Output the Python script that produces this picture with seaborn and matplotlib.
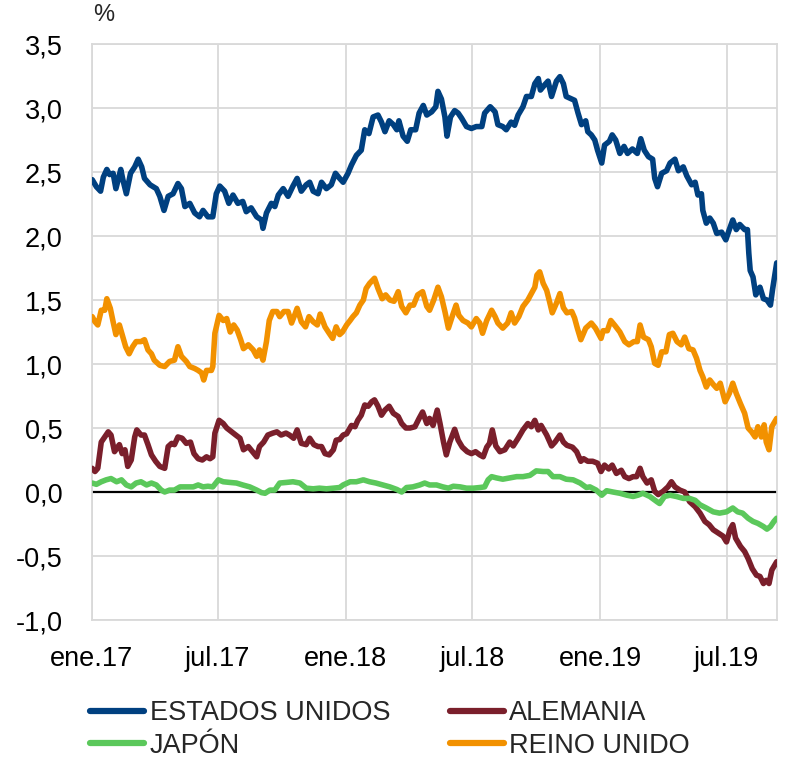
import matplotlib
matplotlib.use("Agg")
import matplotlib.pyplot as plt
from matplotlib.lines import Line2D
import seaborn as sns
import pandas as pd

# ---------------- Data (10y yields) ----------------
eeuu_fechas = [
    "2017-01-02", "2017-01-08", "2017-01-14", "2017-01-18", "2017-01-23", "2017-01-27", "2017-02-01", "2017-02-05",
    "2017-02-12", "2017-02-15", "2017-02-20", "2017-02-26", "2017-03-04", "2017-03-09", "2017-03-14", "2017-03-18",
    "2017-03-26", "2017-04-04", "2017-04-09", "2017-04-15", "2017-04-21", "2017-04-28", "2017-05-05", "2017-05-10",
    "2017-05-15", "2017-05-22", "2017-05-29", "2017-06-05", "2017-06-10", "2017-06-17", "2017-06-24", "2017-06-29",
    "2017-07-04", "2017-07-11", "2017-07-17", "2017-07-23", "2017-07-30", "2017-08-06", "2017-08-11", "2017-08-18",
    "2017-08-26", "2017-09-02", "2017-09-04", "2017-09-09", "2017-09-16", "2017-09-21", "2017-09-26", "2017-10-03",
    "2017-10-10", "2017-10-17", "2017-10-23", "2017-10-29", "2017-11-05", "2017-11-10", "2017-11-15", "2017-11-22",
    "2017-11-27", "2017-12-04", "2017-12-11", "2017-12-17", "2017-12-23", "2017-12-28", "2018-01-04", "2018-01-09",
    "2018-01-16", "2018-01-23", "2018-01-28", "2018-02-03", "2018-02-09", "2018-02-16", "2018-02-21", "2018-02-26",
    "2018-03-04", "2018-03-10", "2018-03-15", "2018-03-18", "2018-03-24", "2018-03-30", "2018-04-04", "2018-04-11",
    "2018-04-16", "2018-04-22", "2018-04-27", "2018-05-04", "2018-05-10", "2018-05-13", "2018-05-18", "2018-05-23",
    "2018-05-26", "2018-05-31", "2018-06-06", "2018-06-11", "2018-06-16", "2018-06-23", "2018-06-30", "2018-07-07",
    "2018-07-15", "2018-07-19", "2018-07-27", "2018-08-03", "2018-08-07", "2018-08-14", "2018-08-19", "2018-08-26",
    "2018-08-31", "2018-09-05", "2018-09-12", "2018-09-17", "2018-09-24", "2018-09-29", "2018-10-04", "2018-10-07",
    "2018-10-13", "2018-10-18", "2018-10-23", "2018-10-30", "2018-11-04", "2018-11-09", "2018-11-13", "2018-11-21",
    "2018-11-25", "2018-11-30", "2018-12-05", "2018-12-11", "2018-12-14", "2018-12-19", "2018-12-24", "2018-12-28",
    "2019-01-03", "2019-01-07", "2019-01-14", "2019-01-18", "2019-01-23", "2019-01-29", "2019-02-04", "2019-02-09",
    "2019-02-16", "2019-02-23", "2019-02-28", "2019-03-05", "2019-03-11", "2019-03-17", "2019-03-20", "2019-03-24",
    "2019-03-30", "2019-04-06", "2019-04-11", "2019-04-18", "2019-04-23", "2019-04-30", "2019-05-05", "2019-05-12",
    "2019-05-17", "2019-05-21", "2019-05-26", "2019-05-28", "2019-06-02", "2019-06-07", "2019-06-12", "2019-06-17",
    "2019-06-24", "2019-06-30", "2019-07-05", "2019-07-10", "2019-07-15", "2019-07-20", "2019-07-27", "2019-07-31",
    "2019-08-02", "2019-08-04", "2019-08-08", "2019-08-12", "2019-08-18", "2019-08-23", "2019-08-28", "2019-09-02",
    "2019-09-05", "2019-09-11",
]
eeuu_valores = [
    2.44, 2.385, 2.35, 2.46, 2.52, 2.48, 2.49, 2.37,
    2.52, 2.44, 2.33, 2.49, 2.54, 2.60, 2.54, 2.45,
    2.40, 2.37, 2.31, 2.20, 2.31, 2.33, 2.41, 2.37,
    2.23, 2.255, 2.18, 2.15, 2.20, 2.15, 2.15, 2.33,
    2.39, 2.35, 2.255, 2.32, 2.255, 2.27, 2.19, 2.22,
    2.15, 2.125, 2.06, 2.18, 2.255, 2.23, 2.32, 2.37,
    2.31, 2.39, 2.45, 2.35, 2.40, 2.42, 2.35, 2.33,
    2.42, 2.37, 2.40, 2.49, 2.45, 2.42, 2.49, 2.555,
    2.63, 2.67, 2.83, 2.80, 2.93, 2.945, 2.89, 2.815,
    2.90, 2.87, 2.83, 2.90, 2.78, 2.74, 2.83, 2.83,
    2.96, 3.02, 2.945, 2.97, 3.01, 3.13, 3.07, 2.93,
    2.78, 2.93, 2.98, 2.96, 2.92, 2.855, 2.84, 2.855,
    2.855, 2.96, 3.01, 2.97, 2.87, 2.855, 2.83, 2.89,
    2.865, 2.945, 3.01, 3.09, 3.09, 3.19, 3.23, 3.14,
    3.18, 3.21, 3.09, 3.21, 3.245, 3.19, 3.09, 3.07,
    3.06, 2.96, 2.87, 2.90, 2.815, 2.79, 2.75, 2.67,
    2.57, 2.71, 2.74, 2.79, 2.75, 2.645, 2.70, 2.645,
    2.68, 2.645, 2.76, 2.67, 2.62, 2.60, 2.45, 2.385,
    2.49, 2.51, 2.57, 2.60, 2.51, 2.54, 2.47, 2.40,
    2.42, 2.32, 2.33, 2.20, 2.10, 2.14, 2.10, 2.02,
    2.03, 1.97, 2.05, 2.125, 2.05, 2.09, 2.05, 2.05,
    1.865, 1.73, 1.68, 1.54, 1.60, 1.51, 1.50, 1.46,
    1.58, 1.79,
]

alemania_fechas = [
    "2017-01-02", "2017-01-06", "2017-01-10", "2017-01-15", "2017-01-20", "2017-01-25", "2017-01-29", "2017-02-03",
    "2017-02-10", "2017-02-14", "2017-02-18", "2017-02-22", "2017-02-27", "2017-03-04", "2017-03-07", "2017-03-13",
    "2017-03-18", "2017-03-23", "2017-03-28", "2017-04-03", "2017-04-09", "2017-04-16", "2017-04-21", "2017-04-26",
    "2017-04-30", "2017-05-05", "2017-05-11", "2017-05-17", "2017-05-23", "2017-05-28", "2017-06-03", "2017-06-09",
    "2017-06-15", "2017-06-20", "2017-06-24", "2017-06-27", "2017-07-03", "2017-07-09", "2017-07-14", "2017-07-21",
    "2017-07-27", "2017-08-02", "2017-08-07", "2017-08-14", "2017-08-20", "2017-08-26", "2017-08-30", "2017-09-05",
    "2017-09-11", "2017-09-18", "2017-09-24", "2017-09-30", "2017-10-07", "2017-10-12", "2017-10-18", "2017-10-23",
    "2017-10-29", "2017-11-05", "2017-11-10", "2017-11-16", "2017-11-22", "2017-11-27", "2017-12-02", "2017-12-08",
    "2017-12-14", "2017-12-18", "2017-12-23", "2017-12-28", "2018-01-02", "2018-01-09", "2018-01-14", "2018-01-18",
    "2018-01-23", "2018-01-28", "2018-02-02", "2018-02-07", "2018-02-11", "2018-02-16", "2018-02-21", "2018-02-26",
    "2018-03-04", "2018-03-10", "2018-03-17", "2018-03-22", "2018-03-28", "2018-04-03", "2018-04-10", "2018-04-16",
    "2018-04-21", "2018-04-27", "2018-05-01", "2018-05-06", "2018-05-12", "2018-05-16", "2018-05-21", "2018-05-25",
    "2018-05-30", "2018-06-06", "2018-06-11", "2018-06-17", "2018-06-24", "2018-06-30", "2018-07-06", "2018-07-12",
    "2018-07-17", "2018-07-22", "2018-07-26", "2018-07-30", "2018-08-04", "2018-08-10", "2018-08-17", "2018-08-24",
    "2018-08-29", "2018-09-05", "2018-09-12", "2018-09-19", "2018-09-24", "2018-09-29", "2018-10-04", "2018-10-08",
    "2018-10-16", "2018-10-23", "2018-10-28", "2018-11-04", "2018-11-09", "2018-11-14", "2018-11-22", "2018-11-28",
    "2018-12-04", "2018-12-08", "2018-12-14", "2018-12-21", "2018-12-28", "2019-01-02", "2019-01-07", "2019-01-13",
    "2019-01-18", "2019-01-24", "2019-01-31", "2019-02-05", "2019-02-11", "2019-02-17", "2019-02-22", "2019-02-27",
    "2019-03-03", "2019-03-09", "2019-03-15", "2019-03-20", "2019-03-25", "2019-04-01", "2019-04-08", "2019-04-13",
    "2019-04-18", "2019-04-25", "2019-05-02", "2019-05-09", "2019-05-17", "2019-05-24", "2019-05-31", "2019-06-06",
    "2019-06-12", "2019-06-19", "2019-06-26", "2019-07-01", "2019-07-06", "2019-07-10", "2019-07-14", "2019-07-21",
    "2019-07-27", "2019-08-01", "2019-08-07", "2019-08-13", "2019-08-18", "2019-08-23", "2019-08-27", "2019-08-31",
    "2019-09-04", "2019-09-11",
]
alemania_valores = [
    0.185, 0.16, 0.185, 0.39, 0.43, 0.47, 0.445, 0.315,
    0.37, 0.30, 0.33, 0.20, 0.25, 0.43, 0.485, 0.445,
    0.445, 0.37, 0.29, 0.24, 0.20, 0.185, 0.355, 0.38,
    0.37, 0.43, 0.42, 0.38, 0.39, 0.30, 0.26, 0.25,
    0.275, 0.26, 0.275, 0.46, 0.56, 0.535, 0.50, 0.47,
    0.445, 0.42, 0.33, 0.355, 0.315, 0.275, 0.355, 0.39,
    0.445, 0.46, 0.47, 0.445, 0.46, 0.445, 0.42, 0.485,
    0.38, 0.37, 0.42, 0.37, 0.355, 0.355, 0.30, 0.29,
    0.33, 0.405, 0.41, 0.445, 0.455, 0.52, 0.51, 0.56,
    0.60, 0.68, 0.67, 0.705, 0.72, 0.67, 0.60, 0.64,
    0.67, 0.615, 0.59, 0.535, 0.50, 0.50, 0.51, 0.575,
    0.625, 0.535, 0.575, 0.52, 0.64, 0.535, 0.39, 0.29,
    0.39, 0.49, 0.405, 0.35, 0.315, 0.30, 0.315, 0.29,
    0.275, 0.35, 0.38, 0.485, 0.36, 0.315, 0.33, 0.39,
    0.36, 0.42, 0.485, 0.535, 0.51, 0.56, 0.485, 0.52,
    0.445, 0.36, 0.39, 0.445, 0.39, 0.365, 0.35, 0.315,
    0.24, 0.26, 0.24, 0.24, 0.225, 0.16, 0.21, 0.18,
    0.21, 0.145, 0.17, 0.12, 0.105, 0.12, 0.12, 0.185,
    0.12, 0.07, 0.095, 0.005, -0.02, 0.005, 0.04, 0.08,
    0.04, 0.015, 0.00, -0.075, -0.115, -0.165, -0.23, -0.255,
    -0.295, -0.32, -0.345, -0.39, -0.295, -0.255, -0.36, -0.425,
    -0.465, -0.52, -0.60, -0.65, -0.66, -0.715, -0.69, -0.715,
    -0.61, -0.545,
]

japon_fechas = [
    "2017-01-02", "2017-01-08", "2017-01-15", "2017-01-22", "2017-01-29", "2017-02-06", "2017-02-13", "2017-02-20",
    "2017-02-27", "2017-03-06", "2017-03-13", "2017-03-21", "2017-03-28", "2017-04-04", "2017-04-11", "2017-04-16",
    "2017-04-23", "2017-04-30", "2017-05-08", "2017-05-17", "2017-05-27", "2017-06-03", "2017-06-10", "2017-06-17",
    "2017-06-24", "2017-07-02", "2017-07-09", "2017-07-18", "2017-07-28", "2017-08-06", "2017-08-16", "2017-08-26",
    "2017-09-02", "2017-09-07", "2017-09-14", "2017-09-21", "2017-09-28", "2017-10-08", "2017-10-17", "2017-10-27",
    "2017-11-05", "2017-11-15", "2017-11-24", "2017-12-04", "2017-12-14", "2017-12-23", "2017-12-28", "2018-01-07",
    "2018-01-16", "2018-01-26", "2018-02-04", "2018-02-13", "2018-02-23", "2018-03-05", "2018-03-15", "2018-03-22",
    "2018-03-29", "2018-04-07", "2018-04-17", "2018-04-24", "2018-05-01", "2018-05-11", "2018-05-20", "2018-05-28",
    "2018-06-04", "2018-06-14", "2018-06-23", "2018-07-03", "2018-07-12", "2018-07-19", "2018-07-24", "2018-07-29",
    "2018-08-05", "2018-08-14", "2018-08-24", "2018-09-03", "2018-09-12", "2018-09-22", "2018-10-01", "2018-10-11",
    "2018-10-18", "2018-10-25", "2018-11-04", "2018-11-13", "2018-11-23", "2018-12-03", "2018-12-12", "2018-12-17",
    "2018-12-26", "2019-01-03", "2019-01-10", "2019-01-19", "2019-01-29", "2019-02-08", "2019-02-17", "2019-02-24",
    "2019-03-03", "2019-03-13", "2019-03-23", "2019-03-27", "2019-04-03", "2019-04-11", "2019-04-20", "2019-04-30",
    "2019-05-09", "2019-05-17", "2019-05-24", "2019-06-02", "2019-06-12", "2019-06-21", "2019-07-01", "2019-07-10",
    "2019-07-17", "2019-07-24", "2019-08-01", "2019-08-08", "2019-08-15", "2019-08-23", "2019-08-28", "2019-09-02",
    "2019-09-07", "2019-09-11",
]
japon_valores = [
    0.07, 0.06, 0.08, 0.095, 0.105, 0.08, 0.095, 0.055,
    0.04, 0.07, 0.08, 0.055, 0.07, 0.055, 0.015, 0.00,
    0.015, 0.015, 0.04, 0.04, 0.04, 0.055, 0.04, 0.045,
    0.04, 0.095, 0.08, 0.075, 0.07, 0.055, 0.04, 0.015,
    -0.005, -0.01, 0.015, 0.015, 0.07, 0.075, 0.08, 0.07,
    0.03, 0.025, 0.03, 0.025, 0.03, 0.035, 0.055, 0.08,
    0.08, 0.095, 0.08, 0.07, 0.055, 0.04, 0.02, 0.00,
    0.035, 0.04, 0.055, 0.07, 0.055, 0.055, 0.04, 0.03,
    0.045, 0.04, 0.03, 0.03, 0.035, 0.04, 0.095, 0.12,
    0.11, 0.10, 0.11, 0.12, 0.12, 0.13, 0.165, 0.16,
    0.16, 0.12, 0.12, 0.10, 0.095, 0.07, 0.035, 0.04,
    0.015, -0.025, 0.01, 0.00, -0.01, -0.025, -0.035, -0.025,
    -0.01, -0.035, -0.075, -0.09, -0.035, -0.025, -0.035, -0.05,
    -0.05, -0.065, -0.10, -0.125, -0.155, -0.165, -0.155, -0.125,
    -0.155, -0.165, -0.205, -0.23, -0.245, -0.27, -0.29, -0.27,
    -0.23, -0.205,
]

reino_unido_fechas = [
    "2017-01-02", "2017-01-06", "2017-01-10", "2017-01-15", "2017-01-20", "2017-01-23", "2017-01-28", "2017-02-01",
    "2017-02-05", "2017-02-10", "2017-02-14", "2017-02-19", "2017-02-24", "2017-03-01", "2017-03-06", "2017-03-13",
    "2017-03-18", "2017-03-23", "2017-03-28", "2017-04-01", "2017-04-09", "2017-04-16", "2017-04-23", "2017-04-30",
    "2017-05-05", "2017-05-10", "2017-05-17", "2017-05-22", "2017-05-29", "2017-06-03", "2017-06-08", "2017-06-11",
    "2017-06-15", "2017-06-22", "2017-06-24", "2017-06-27", "2017-07-03", "2017-07-09", "2017-07-14", "2017-07-19",
    "2017-07-24", "2017-07-29", "2017-08-03", "2017-08-07", "2017-08-14", "2017-08-21", "2017-08-26", "2017-08-30",
    "2017-09-04", "2017-09-09", "2017-09-13", "2017-09-18", "2017-09-24", "2017-09-28", "2017-10-04", "2017-10-10",
    "2017-10-15", "2017-10-20", "2017-10-23", "2017-10-29", "2017-11-04", "2017-11-09", "2017-11-15", "2017-11-21",
    "2017-11-25", "2017-12-02", "2017-12-08", "2017-12-13", "2017-12-18", "2017-12-23", "2017-12-27", "2018-01-02",
    "2018-01-07", "2018-01-11", "2018-01-16", "2018-01-21", "2018-01-26", "2018-01-30", "2018-02-04", "2018-02-11",
    "2018-02-16", "2018-02-22", "2018-02-27", "2018-03-05", "2018-03-11", "2018-03-17", "2018-03-22", "2018-03-28",
    "2018-04-03", "2018-04-08", "2018-04-14", "2018-04-21", "2018-04-27", "2018-05-01", "2018-05-07", "2018-05-13",
    "2018-05-18", "2018-05-23", "2018-05-28", "2018-06-03", "2018-06-08", "2018-06-12", "2018-06-18", "2018-06-25",
    "2018-06-30", "2018-07-07", "2018-07-12", "2018-07-16", "2018-07-22", "2018-07-29", "2018-08-03", "2018-08-07",
    "2018-08-14", "2018-08-21", "2018-08-26", "2018-08-31", "2018-09-06", "2018-09-12", "2018-09-19", "2018-09-24",
    "2018-09-29", "2018-10-02", "2018-10-06", "2018-10-11", "2018-10-16", "2018-10-20", "2018-10-24", "2018-10-30",
    "2018-11-04", "2018-11-09", "2018-11-14", "2018-11-21", "2018-11-25", "2018-11-29", "2018-12-04", "2018-12-11",
    "2018-12-19", "2018-12-25", "2019-01-02", "2019-01-05", "2019-01-11", "2019-01-16", "2019-01-22", "2019-01-29",
    "2019-02-05", "2019-02-11", "2019-02-18", "2019-02-23", "2019-02-27", "2019-03-04", "2019-03-11", "2019-03-15",
    "2019-03-20", "2019-03-25", "2019-03-30", "2019-04-05", "2019-04-10", "2019-04-15", "2019-04-21", "2019-04-27",
    "2019-05-02", "2019-05-08", "2019-05-14", "2019-05-19", "2019-05-24", "2019-05-28", "2019-06-02", "2019-06-07",
    "2019-06-12", "2019-06-17", "2019-06-22", "2019-06-29", "2019-07-05", "2019-07-10", "2019-07-15", "2019-07-21",
    "2019-07-27", "2019-08-01", "2019-08-06", "2019-08-11", "2019-08-15", "2019-08-20", "2019-08-24", "2019-08-27",
    "2019-08-31", "2019-09-04", "2019-09-11",
]
reino_unido_valores = [
    1.37, 1.33, 1.305, 1.42, 1.42, 1.51, 1.435, 1.33,
    1.23, 1.305, 1.23, 1.135, 1.08, 1.135, 1.175, 1.175,
    1.19, 1.11, 1.08, 1.03, 0.99, 0.98, 1.02, 1.03,
    1.135, 1.06, 1.02, 0.98, 0.965, 0.95, 0.93, 0.875,
    0.95, 0.95, 0.98, 1.24, 1.38, 1.34, 1.355, 1.25,
    1.305, 1.265, 1.19, 1.12, 1.15, 1.11, 1.06, 1.11,
    1.03, 1.175, 1.34, 1.41, 1.41, 1.37, 1.41, 1.41,
    1.32, 1.39, 1.435, 1.33, 1.29, 1.37, 1.33, 1.305,
    1.39, 1.29, 1.24, 1.20, 1.29, 1.23, 1.25, 1.305,
    1.34, 1.37, 1.40, 1.46, 1.50, 1.59, 1.63, 1.67,
    1.59, 1.51, 1.54, 1.50, 1.49, 1.565, 1.45, 1.40,
    1.46, 1.46, 1.54, 1.565, 1.45, 1.42, 1.50, 1.60,
    1.525, 1.41, 1.28, 1.38, 1.46, 1.38, 1.34, 1.32,
    1.29, 1.355, 1.32, 1.24, 1.34, 1.42, 1.37, 1.32,
    1.28, 1.32, 1.40, 1.32, 1.37, 1.45, 1.50, 1.55,
    1.60, 1.695, 1.72, 1.63, 1.575, 1.49, 1.40, 1.475,
    1.55, 1.44, 1.40, 1.41, 1.36, 1.28, 1.19, 1.28,
    1.32, 1.28, 1.20, 1.26, 1.26, 1.34, 1.30, 1.25,
    1.175, 1.15, 1.175, 1.175, 1.305, 1.21, 1.19, 1.135,
    1.005, 0.99, 1.095, 1.095, 1.23, 1.24, 1.175, 1.15,
    1.21, 1.12, 1.11, 1.045, 0.95, 0.90, 0.82, 0.875,
    0.84, 0.81, 0.85, 0.705, 0.77, 0.85, 0.77, 0.69,
    0.615, 0.50, 0.47, 0.43, 0.51, 0.43, 0.525, 0.39,
    0.33, 0.51, 0.575,
]

series = ["ESTADOS UNIDOS", "ALEMANIA", "JAPÓN", "REINO UNIDO"]
colores = ["#004080", "#7A1F2B", "#5BC85B", "#F29100"]

ticks_x = ["2017-01-01", "2017-07-01", "2018-01-01", "2018-07-01", "2019-01-01", "2019-07-01"]
etiquetas_x = ["ene.17", "jul.17", "ene.18", "jul.18", "ene.19", "jul.19"]
ticks_y = [-1.0, -0.5, 0.0, 0.5, 1.0, 1.5, 2.0, 2.5, 3.0, 3.5]

# ---------------- Long table for seaborn ----------------
partes = []
for nombre, fechas, valores in zip(
    series,
    [eeuu_fechas, alemania_fechas, japon_fechas, reino_unido_fechas],
    [eeuu_valores, alemania_valores, japon_valores, reino_unido_valores],
):
    partes.append(pd.DataFrame({"fecha": pd.to_datetime(fechas), "valor": valores, "serie": nombre}))
df = pd.concat(partes, ignore_index=True)

# ---------------- Style ----------------
sns.set_style("white")
plt.rcParams["font.family"] = ["Liberation Sans", "DejaVu Sans"]
FS = 19.5
GRIS = "#D9D9D9"

fig = plt.figure(figsize=(7.89, 7.63), dpi=100)
ax = fig.add_axes([91.5 / 789, 1 - 620 / 763, (776.7 - 91.5) / 789, (620 - 44) / 763])

paleta = dict(zip(series, colores))
sns.lineplot(data=df, x="fecha", y="valor", hue="serie", hue_order=series,
             palette=paleta, estimator=None, linewidth=4.0, legend=False, ax=ax, zorder=3)

ax.axhline(0, color="black", linewidth=1.6, zorder=2)

# ---------------- Axes ----------------
ax.set_xlim(pd.Timestamp("2017-01-01"), pd.Timestamp("2019-09-11"))
ax.set_ylim(-1.0, 3.5)
ax.set_xticks(pd.to_datetime(ticks_x))
ax.set_xticklabels(etiquetas_x, fontsize=FS)
ax.set_yticks(ticks_y)
ax.set_yticklabels([f"{v:.1f}".replace(".", ",") for v in ticks_y], fontsize=FS)
ax.tick_params(axis="both", length=0, colors="black")
ax.tick_params(axis="y", pad=21)
ax.tick_params(axis="x", pad=19)
ax.set_xlabel("")
ax.set_ylabel("")
ax.grid(True, color=GRIS, linewidth=1.3, zorder=0)
ax.set_axisbelow(True)
for sp in ax.spines.values():
    sp.set_color(GRIS)
    sp.set_linewidth(1.3)

fig.text(104 / 789, 1 - 15 / 763, "%", fontsize=17, ha="center", va="center")

# ---------------- Legend (row-wise order like the original) ----------------
orden = ["ESTADOS UNIDOS", "JAPÓN", "ALEMANIA", "REINO UNIDO"]
handles = [Line2D([], [], color=paleta[n], linewidth=4.5, solid_capstyle="round") for n in orden]
fig.legend(handles, orden, loc="upper left", bbox_to_anchor=(90 / 789, 1 - 700 / 763),
           ncol=2, frameon=False, fontsize=FS, handlelength=2.0, handletextpad=0.2,
           columnspacing=2.2, labelspacing=0.25, borderpad=0, borderaxespad=0)

plt.savefig("out.png", dpi=100)
plt.close()
